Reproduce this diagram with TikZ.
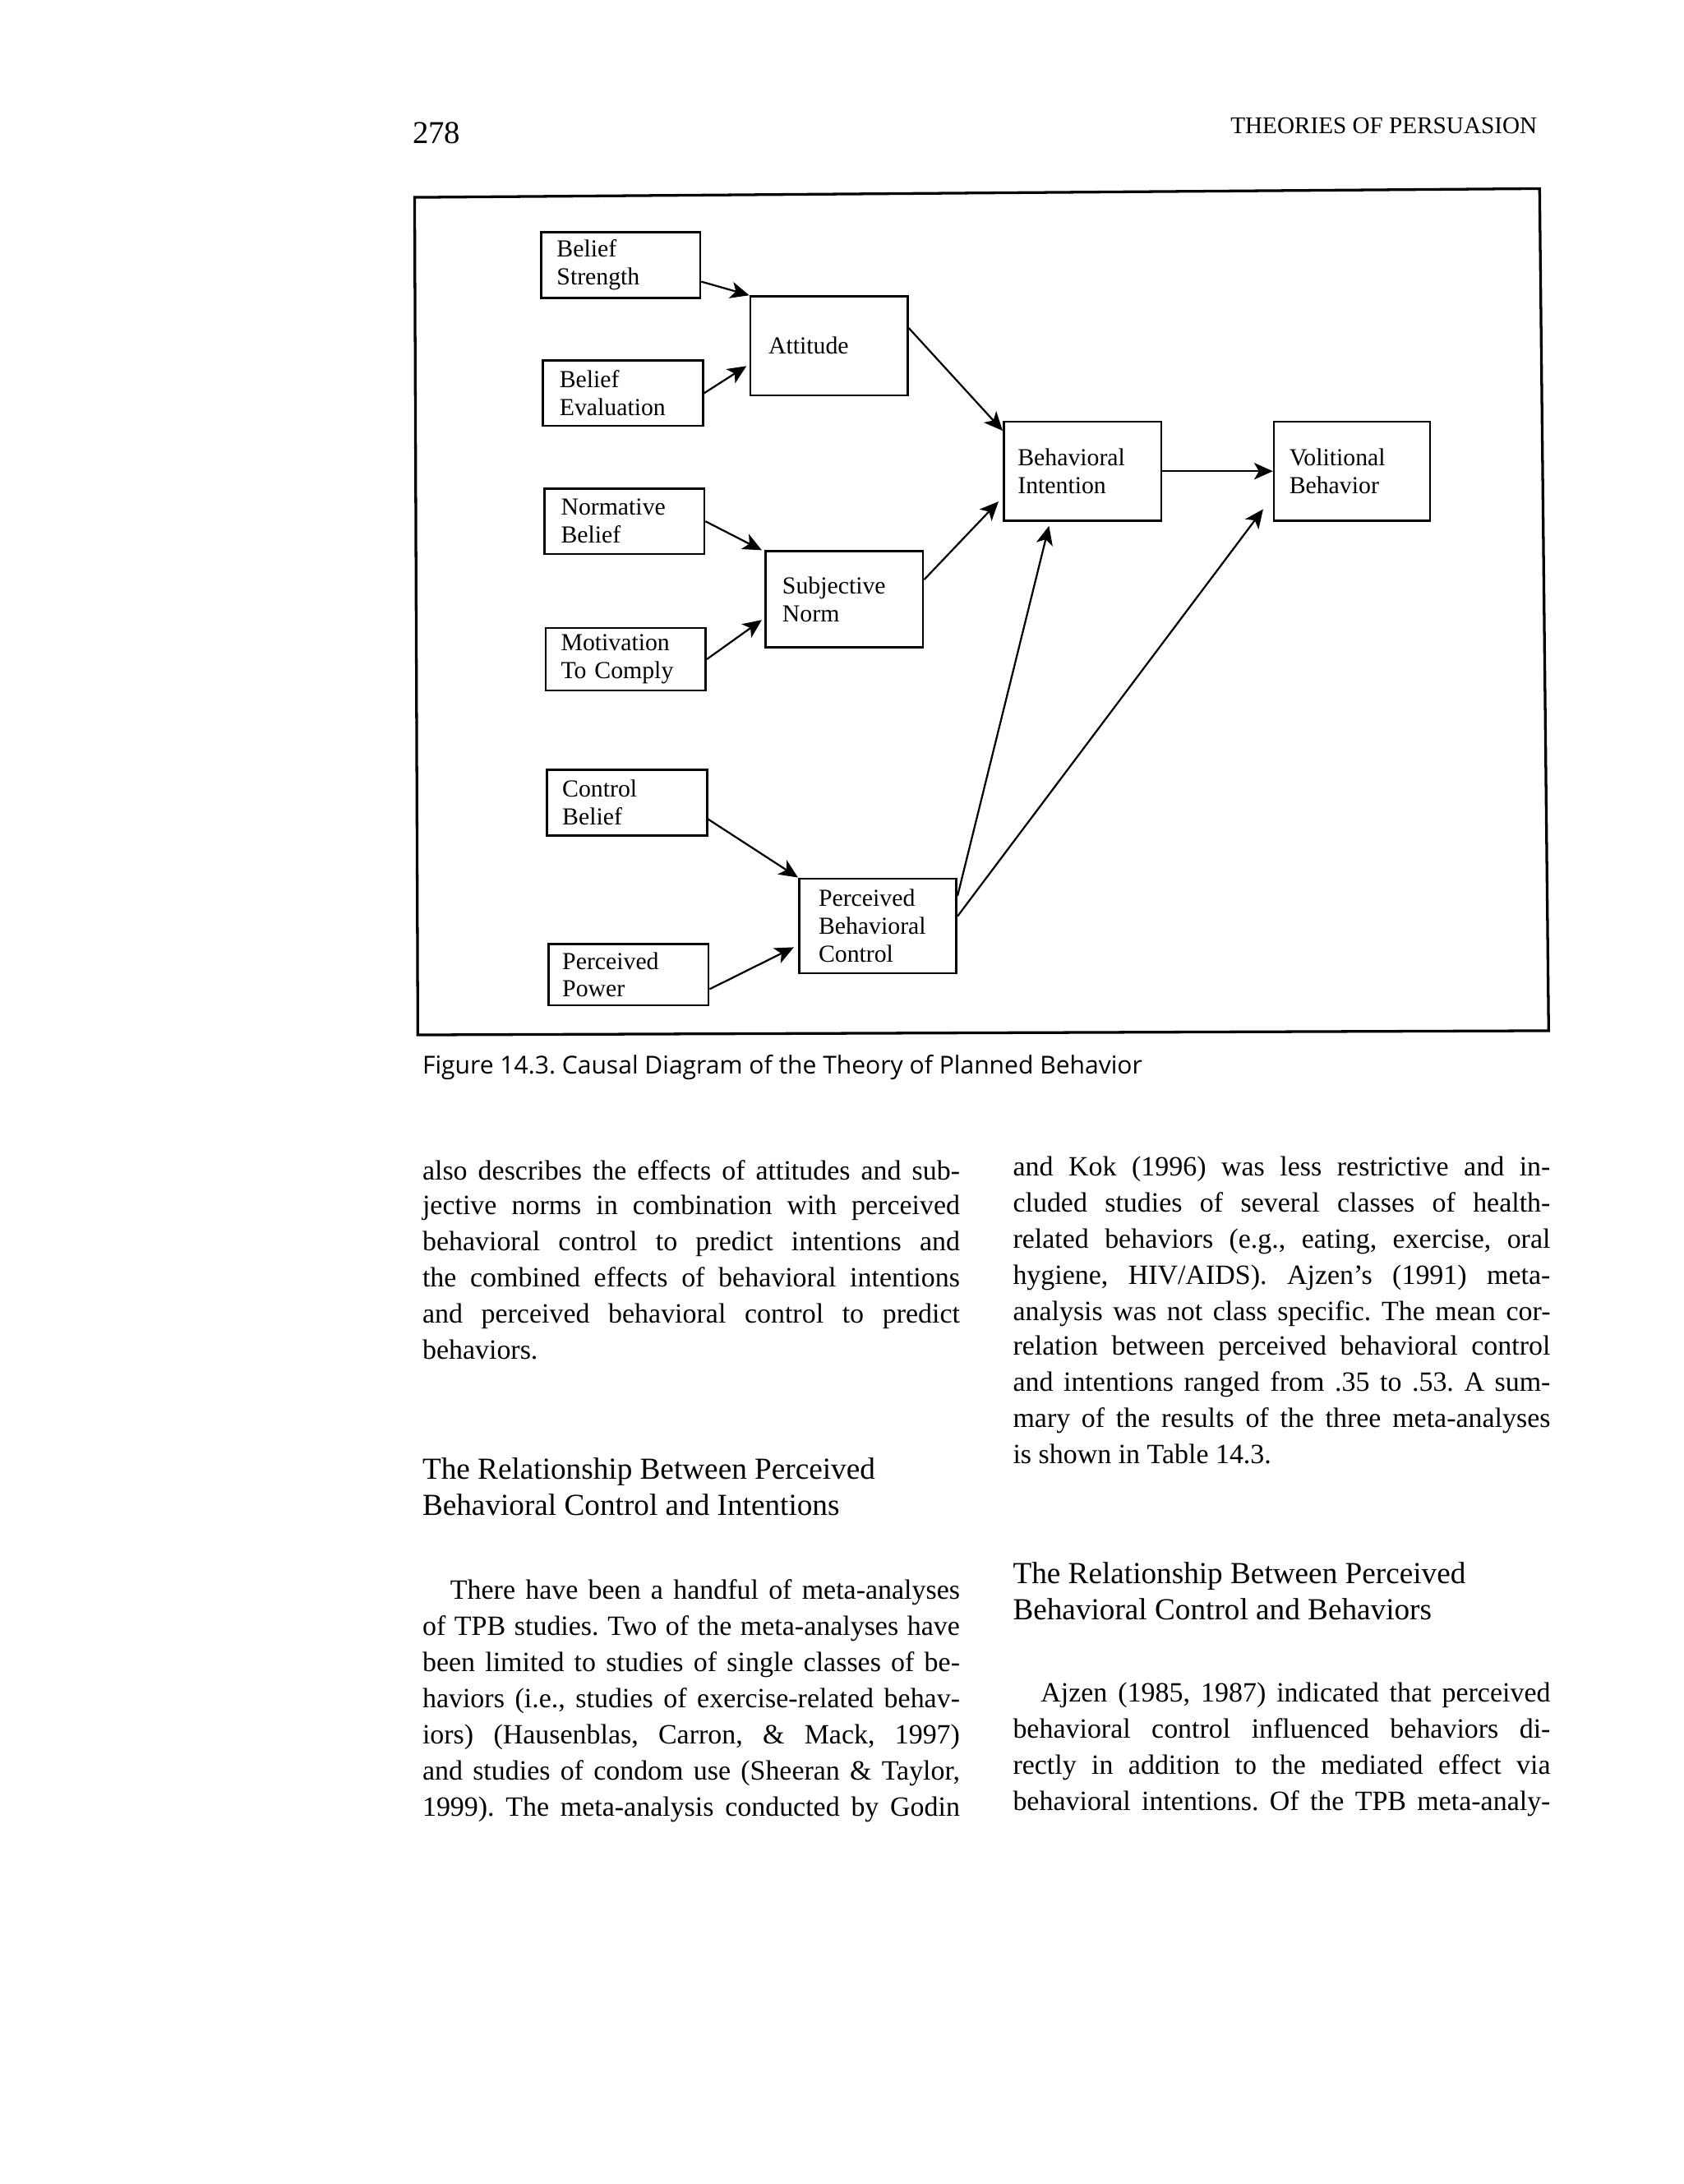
\documentclass[tikz,border=0pt]{standalone}
\usepackage{fontspec}
\setmainfont{Liberation Serif}
\newfontfamily\capfont{Open Sans}
\usetikzlibrary{arrows.meta,calc}
\newcommand{\jline}[2]{\hbox to #1{\spaceskip=0.25em plus 1em minus 0.1em\relax #2}}
\frenchspacing
\begin{document}
\begin{tikzpicture}[x=0.02cm,y=-0.02cm,
  bx/.style={draw, line width=0.9pt, rectangle, anchor=north west, inner ysep=0pt, align=left, font=\fontsize{10}{11.4}\selectfont},
  ins/.style 2 args={inner xsep=#1cm, text width=#2cm},
  arr/.style={-{Stealth[length=0.27cm,width=0.24cm,inset=0.07cm]}, line width=0.75pt},
  body/.style={anchor=base west, inner sep=0pt, font=\fontsize{11.4}{13}\selectfont},
  head/.style={anchor=base west, inner sep=0pt, font=\fontsize{12.5}{15}\selectfont},
  frame/.style={draw, line width=1.1pt}]
\useasboundingbox (0,0) rectangle (1209,1568);
\fill[white] (0,0) rectangle (1209,1568);

% running head
\node[anchor=base west, inner sep=0pt, font=\fontsize{13}{15}\selectfont] (pno) at (296,103) {278};
\node[anchor=base east, inner sep=0pt, font=\fontsize{9.8}{12}\selectfont] (rh) at (1104,96) {THEORIES OF PERSUASION};

% figure frame
\draw[frame] (297.7,141.7) -- (1105.5,135.4) -- (1112,740) -- (300,743) -- cycle;

% boxes
\node[bx, ins={0.22}{1.84}, minimum height=0.94cm] (bs) at (388,166) {Belief\\Strength};
\node[bx, ins={0.26}{1.74}, minimum height=1.42cm] (att) at (538,212) {Attitude};
\node[bx, ins={0.24}{1.82}, minimum height=0.94cm] (be) at (389,258) {Belief\\Evaluation};
\node[bx, ins={0.24}{1.82}, minimum height=0.94cm] (nb) at (390,350) {Normative\\Belief};
\node[bx, ins={0.24}{1.78}, minimum height=1.38cm] (sn) at (549,395) {Subjective\\Norm};
\node[bx, ins={0.22}{1.86}, minimum height=0.90cm] (mc) at (391,450) {Motivation\\To Comply};
\node[bx, ins={0.22}{1.86}, minimum height=0.94cm] (cb) at (392,552) {Control\\Belief};
\node[bx, ins={0.28}{1.70}, minimum height=1.36cm] (pbc) at (573,630) {Perceived\\Behavioral\\Control};
\node[bx, ins={0.20}{1.90}, minimum height=0.88cm] (pp) at (393,677) {Perceived\\Power};
\node[bx, ins={0.20}{1.86}, minimum height=1.42cm] (bi) at (720,302) {Behavioral\\Intention};
\node[bx, ins={0.22}{1.80}, minimum height=1.42cm] (vb) at (914,302) {Volitional\\Behavior};

% connectors
\draw[arr] ($(bs.north east)!0.745!(bs.south east)$) -- (att.north west);
\draw[arr] (be.east) -- ($(att.north west)!0.70!(att.south west)+(-2,0)$);
\draw[arr] (nb.east) -- ($(sn.north west)+(-2,0)$);
\draw[arr] (mc.east) -- ($(sn.north west)!0.71!(sn.south west)+(-2,0)$);
\draw[arr] ($(cb.north east)!0.745!(cb.south east)$) -- (pbc.north west);
\draw[arr] ($(pp.north east)!0.727!(pp.south east)$) -- ($(pbc.north west)!0.72!(pbc.south west)+(-3,0)$);
\draw[arr] ($(att.north east)!0.324!(att.south east)$) -- ($(bi.north west)!0.10!(bi.south west)$);
\draw[arr] ($(sn.north east)!0.30!(sn.south east)$) -- ($(bi.north west)!0.80!(bi.south west)+(-3,0)$);
\draw[arr] ($(pbc.north east)!0.19!(pbc.south east)$) -- ($(bi.south west)!0.29!(bi.south east)+(0,3)$);
\draw[arr] ($(pbc.north east)!0.40!(pbc.south east)$) -- ($(vb.south west)+(-7,-9)$);
\draw[arr] (bi.east) -- (vb.west);

% caption
\node[anchor=base west, inner sep=0pt, font=\capfont\fontsize{10.1}{12}\selectfont] (cap) at (303,771) {Figure 14.3. Causal Diagram of the Theory of Planned Behavior};

% left column
\node[body] (l1) at (303,847) {\jline{7.72cm}{also describes the effects of attitudes and sub-}};
\node[body] (l2) at (303,872) {\jline{7.72cm}{jective norms in combination with perceived}};
\node[body] (l3) at (303,898) {\jline{7.72cm}{behavioral control to predict intentions and}};
\node[body] (l4) at (303,924) {\jline{7.72cm}{the combined effects of behavioral intentions}};
\node[body] (l5) at (303,950) {\jline{7.72cm}{and perceived behavioral control to predict}};
\node[body] (l6) at (303,976) {behaviors.};

\node[head] (h1a) at (303,1062) {The Relationship Between Perceived};
\node[head] (h1b) at (303,1088) {Behavioral Control and Intentions};

\node[body] (m1) at (323,1148) {\jline{7.32cm}{There have been a handful of meta-analyses}};
\node[body] (m2) at (303,1174) {\jline{7.72cm}{of TPB studies. Two of the meta-analyses have}};
\node[body] (m3) at (303,1200) {\jline{7.72cm}{been limited to studies of single classes of be-}};
\node[body] (m4) at (303,1226) {\jline{7.72cm}{haviors (i.e., studies of exercise-related behav-}};
\node[body] (m5) at (303,1252) {\jline{7.72cm}{iors) (Hausenblas, Carron, \& Mack, 1997)}};
\node[body] (m6) at (303,1278) {\jline{7.72cm}{and studies of condom use (Sheeran \& Taylor,}};
\node[body] (m7) at (303,1304) {\jline{7.72cm}{1999). The meta-analysis conducted by Godin}};

% right column
\node[body] (r1) at (727,844) {\jline{7.72cm}{and Kok (1996) was less restrictive and in-}};
\node[body] (r2) at (727,870) {\jline{7.72cm}{cluded studies of several classes of health-}};
\node[body] (r3) at (727,896) {\jline{7.72cm}{related behaviors (e.g., eating, exercise, oral}};
\node[body] (r4) at (727,922) {\jline{7.72cm}{hygiene, HIV/AIDS). Ajzen's (1991) meta-}};
\node[body] (r5) at (727,948) {\jline{7.72cm}{analysis was not class specific. The mean cor-}};
\node[body] (r6) at (727,973) {\jline{7.72cm}{relation between perceived behavioral control}};
\node[body] (r7) at (727,999) {\jline{7.72cm}{and intentions ranged from .35 to .53. A sum-}};
\node[body] (r8) at (727,1025) {\jline{7.72cm}{mary of the results of the three meta-analyses}};
\node[body] (r9) at (727,1051) {is shown in Table 14.3.};

\node[head] (h2a) at (727,1137) {The Relationship Between Perceived};
\node[head] (h2b) at (727,1163) {Behavioral Control and Behaviors};

\node[body] (s1) at (747,1222) {\jline{7.32cm}{Ajzen (1985, 1987) indicated that perceived}};
\node[body] (s2) at (727,1248) {\jline{7.72cm}{behavioral control influenced behaviors di-}};
\node[body] (s3) at (727,1274) {\jline{7.72cm}{rectly in addition to the mediated effect via}};
\node[body] (s4) at (727,1300) {\jline{7.72cm}{behavioral intentions. Of the TPB meta-analy-}};
\end{tikzpicture}
\end{document}
